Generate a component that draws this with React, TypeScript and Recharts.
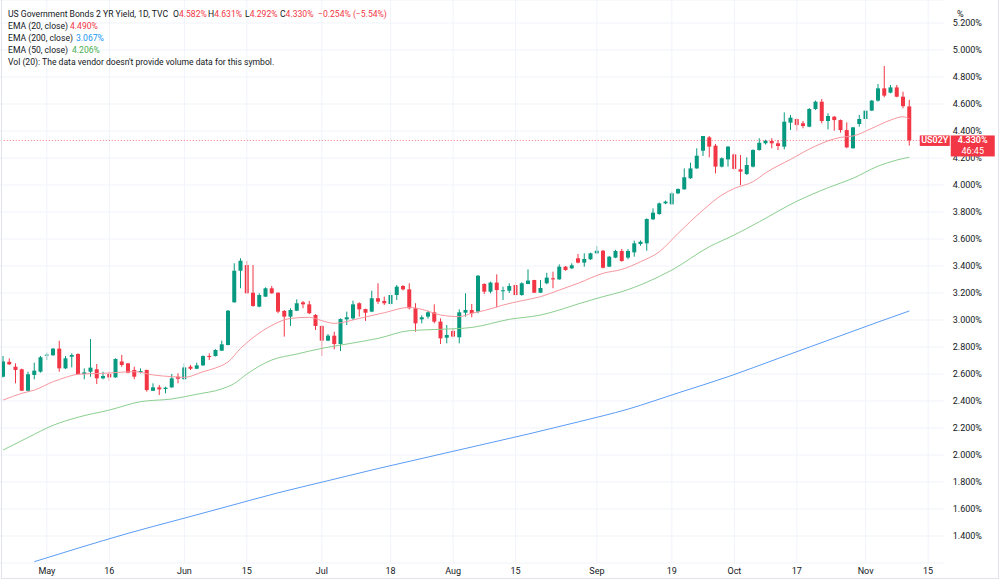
import { Bar, CartesianGrid, ComposedChart, Line, ReferenceLine, XAxis, YAxis } from "recharts";

const UP = "#089981";
const DOWN = "#F23645";
const TEXT = "#131722";
const FONT = "Roboto, 'Noto Sans', sans-serif";

// US02Y daily bars, Apr 21 2022 – Nov 10 2022
const opens = [
  2.58, 2.69, 2.654, 2.635, 2.476, 2.593, 2.617, 2.736, 2.739, 2.788,
  2.642, 2.728, 2.748, 2.6, 2.617, 2.635, 2.568, 2.6, 2.575, 2.693,
  2.679, 2.63, 2.615, 2.63, 2.476, 2.501, 2.489, 2.501, 2.58, 2.561,
  2.654, 2.639, 2.664, 2.733, 2.733, 2.773, 2.815, 3.131, 3.365, 3.407,
  3.202, 3.099, 3.173, 3.235, 3.202, 3.067, 3.025, 3.069, 3.131, 3.116,
  3.037, 2.956, 2.847, 2.884, 2.822, 3.005, 3.012, 3.124, 3.081, 3.062,
  3.161, 3.141, 3.119, 3.185, 3.252, 3.227, 3.087, 3.005, 3.025, 3.057,
  2.988, 2.869, 2.919, 2.872, 3.054, 3.074, 3.062, 3.267, 3.21, 3.277,
  3.215, 3.217, 3.259, 3.185, 3.267, 3.296, 3.202, 3.272, 3.309, 3.301,
  3.395, 3.383, 3.457, 3.425, 3.45, 3.494, 3.513, 3.395, 3.462, 3.511,
  3.462, 3.501, 3.563, 3.568, 3.746, 3.785, 3.864, 3.857, 3.938, 3.968,
  4.05, 4.123, 4.254, 4.353, 4.291, 4.136, 4.19, 4.227, 4.116, 4.081,
  4.136, 4.259, 4.309, 4.326, 4.309, 4.284, 4.462, 4.489, 4.457, 4.432,
  4.563, 4.617, 4.474, 4.506, 4.481, 4.407, 4.272, 4.452, 4.489, 4.551,
  4.625, 4.716, 4.684, 4.723, 4.654, 4.582,
];
const highs = [
  2.733, 2.716, 2.679, 2.64, 2.617, 2.684, 2.733, 2.758, 2.792, 2.847,
  2.733, 2.753, 2.753, 2.642, 2.859, 2.674, 2.617, 2.617, 2.716, 2.741,
  2.682, 2.654, 2.642, 2.632, 2.531, 2.519, 2.506, 2.6, 2.605, 2.679,
  2.667, 2.684, 2.738, 2.753, 2.783, 2.847, 3.074, 3.42, 3.457, 3.437,
  3.407, 3.198, 3.242, 3.252, 3.205, 3.074, 3.087, 3.153, 3.141, 3.141,
  3.044, 2.96, 2.896, 2.913, 3.012, 3.062, 3.143, 3.131, 3.084, 3.217,
  3.272, 3.173, 3.21, 3.259, 3.259, 3.272, 3.124, 3.035, 3.069, 3.116,
  3.012, 2.963, 2.932, 3.079, 3.198, 3.119, 3.333, 3.272, 3.284, 3.338,
  3.247, 3.272, 3.284, 3.279, 3.375, 3.298, 3.296, 3.35, 3.358, 3.412,
  3.4, 3.42, 3.489, 3.494, 3.499, 3.548, 3.519, 3.475, 3.52, 3.526,
  3.525, 3.588, 3.59, 3.753, 3.827, 3.87, 3.885, 3.951, 3.975, 4.123,
  4.165, 4.272, 4.363, 4.363, 4.304, 4.205, 4.289, 4.235, 4.222, 4.205,
  4.265, 4.346, 4.335, 4.346, 4.333, 4.538, 4.519, 4.494, 4.474, 4.57,
  4.625, 4.637, 4.531, 4.511, 4.485, 4.464, 4.43, 4.519, 4.556, 4.63,
  4.748, 4.881, 4.741, 4.741, 4.691, 4.631,
];
const lows = [
  2.575, 2.667, 2.531, 2.476, 2.47, 2.561, 2.61, 2.704, 2.735, 2.617,
  2.637, 2.649, 2.593, 2.561, 2.58, 2.526, 2.561, 2.55, 2.572, 2.654,
  2.605, 2.561, 2.605, 2.469, 2.474, 2.444, 2.457, 2.498, 2.531, 2.558,
  2.63, 2.636, 2.66, 2.704, 2.73, 2.77, 2.812, 3.128, 3.235, 3.195,
  3.099, 3.094, 3.17, 3.195, 3.05, 2.877, 2.956, 3.066, 3.087, 3.044,
  2.926, 2.733, 2.843, 2.783, 2.77, 2.963, 3.0, 3.025, 2.993, 3.058,
  3.119, 3.111, 3.112, 3.148, 3.22, 3.079, 2.913, 2.975, 3.01, 2.975,
  2.822, 2.827, 2.872, 2.827, 3.025, 3.02, 3.05, 3.193, 3.198, 3.094,
  3.148, 3.2, 3.18, 3.18, 3.265, 3.2, 3.2, 3.265, 3.235, 3.298,
  3.365, 3.378, 3.42, 3.395, 3.445, 3.49, 3.382, 3.392, 3.458, 3.432,
  3.45, 3.469, 3.55, 3.513, 3.74, 3.78, 3.858, 3.855, 3.933, 3.965,
  4.045, 4.12, 4.215, 4.205, 4.086, 4.13, 4.136, 4.111, 4.0, 4.075,
  4.13, 4.255, 4.3, 4.272, 4.259, 4.264, 4.407, 4.402, 4.42, 4.428,
  4.556, 4.457, 4.412, 4.402, 4.388, 4.272, 4.27, 4.432, 4.42, 4.548,
  4.617, 4.65, 4.679, 4.65, 4.568, 4.292,
];
const closes = [
  2.693, 2.672, 2.63, 2.476, 2.598, 2.625, 2.724, 2.744, 2.788, 2.642,
  2.716, 2.741, 2.6, 2.612, 2.647, 2.568, 2.585, 2.575, 2.711, 2.667,
  2.61, 2.58, 2.622, 2.481, 2.501, 2.486, 2.499, 2.568, 2.565, 2.649,
  2.639, 2.664, 2.733, 2.728, 2.778, 2.82, 3.069, 3.365, 3.439, 3.198,
  3.104, 3.185, 3.235, 3.198, 3.062, 3.025, 3.074, 3.124, 3.116, 3.05,
  2.956, 2.847, 2.884, 2.822, 3.007, 3.02, 3.116, 3.079, 3.054, 3.161,
  3.136, 3.124, 3.185, 3.247, 3.227, 3.087, 2.975, 3.02, 3.057, 2.988,
  2.864, 2.889, 2.877, 3.057, 3.074, 3.05, 3.328, 3.21, 3.277, 3.222,
  3.22, 3.252, 3.185, 3.272, 3.292, 3.202, 3.237, 3.314, 3.301, 3.395,
  3.37, 3.405, 3.425, 3.452, 3.494, 3.513, 3.387, 3.469, 3.511, 3.437,
  3.511, 3.568, 3.58, 3.748, 3.795, 3.864, 3.877, 3.938, 3.97, 4.057,
  4.123, 4.217, 4.363, 4.284, 4.136, 4.198, 4.284, 4.119, 4.099, 4.148,
  4.259, 4.313, 4.328, 4.309, 4.289, 4.469, 4.499, 4.444, 4.437, 4.563,
  4.617, 4.474, 4.511, 4.481, 4.407, 4.279, 4.427, 4.489, 4.551, 4.625,
  4.716, 4.662, 4.723, 4.654, 4.584, 4.33,
];

// empty slots to the right of the last bar
const FUTURE_BARS = 5;

// moving averages, [bar index, value]
const ema20: [number, number][] = [
  [0, 2.407], [3, 2.457], [5, 2.481], [8, 2.543], [10, 2.575], [12, 2.598], [16, 2.605],
  [21, 2.617], [24, 2.593], [27, 2.58], [29, 2.575], [32, 2.617], [34, 2.645], [36, 2.69],
  [38, 2.79], [40, 2.87], [43, 2.96], [46, 3.012], [49, 3.02], [51, 2.995], [53, 2.975],
  [57, 3.012], [61, 3.054], [65, 3.094], [67, 3.079], [70, 3.037], [73, 3.025], [75, 3.05],
  [77, 3.07], [80, 3.111], [83, 3.143], [86, 3.173], [89, 3.222], [92, 3.272], [96, 3.346],
  [99, 3.375], [102, 3.432], [105, 3.506], [108, 3.642], [112, 3.815], [115, 3.926],
  [117, 3.975], [120, 4.025], [122, 4.09], [126, 4.19], [130, 4.289], [134, 4.353],
  [136, 4.363], [139, 4.42], [142, 4.481], [144, 4.506], [145, 4.49],
];
const ema50: [number, number][] = [
  [0, 2.037], [4, 2.13], [8, 2.22], [12, 2.28], [17, 2.333], [22, 2.395], [27, 2.415],
  [31, 2.45], [35, 2.49], [37, 2.53], [39, 2.6], [43, 2.704], [47, 2.748], [51, 2.79],
  [55, 2.822], [60, 2.864], [65, 2.921], [70, 2.931], [75, 2.945], [81, 3.005], [86, 3.037],
  [89, 3.074], [92, 3.119], [96, 3.173], [99, 3.21], [103, 3.28], [107, 3.37], [113, 3.543],
  [117, 3.63], [121, 3.728], [127, 3.88], [132, 3.98], [136, 4.05], [140, 4.14],
  [143, 4.185], [145, 4.206],
];
const ema200: [number, number][] = [
  [5, 1.21], [12, 1.31], [20, 1.42], [28, 1.52], [36, 1.62], [44, 1.72], [52, 1.81],
  [60, 1.9], [68, 1.985], [76, 2.07], [84, 2.155], [92, 2.245], [100, 2.34], [108, 2.46],
  [116, 2.58], [124, 2.715], [132, 2.85], [140, 2.985], [145, 3.067],
];

// time scale labels by bar index (Nov 15 falls in the empty slots)
const dateTicks: [number, string][] = [
  [7, "May"], [17, "16"], [29, "Jun"], [39, "15"], [51, "Jul"], [62, "18"], [72, "Aug"],
  [82, "15"], [95, "Sep"], [107, "19"], [117, "Oct"], [127, "17"], [138, "Nov"], [148, "15"],
];

const priceTicks = [
  1.4, 1.6, 1.8, 2.0, 2.2, 2.4, 2.6, 2.8, 3.0, 3.2, 3.4, 3.6, 3.8, 4.0, 4.2, 4.4, 4.6, 4.8, 5.0, 5.2,
];

const LAST = closes[closes.length - 1];

type Row = {
  i: number;
  o?: number;
  h?: number;
  l?: number;
  c?: number;
  e20?: number;
  e50?: number;
  e200?: number;
};

const rows: Row[] = Array.from({ length: opens.length + FUTURE_BARS }, (_, i) => ({
  i,
  o: opens[i],
  h: highs[i],
  l: lows[i],
  c: closes[i],
}));
ema20.forEach(([i, v]) => (rows[i].e20 = v));
ema50.forEach(([i, v]) => (rows[i].e50 = v));
ema200.forEach(([i, v]) => (rows[i].e200 = v));

const dateLabel = new Map(dateTicks);

function Candle(props: any) {
  const { x, y, width, height, payload } = props;
  if (payload.o == null) return <g />;
  const { o, h, l, c } = payload;
  const top = Math.min(y, y + height);
  const span = Math.abs(height);
  const ppu = h > l ? span / (h - l) : 0;
  const py = (v: number) => top + (h - v) * ppu;
  const color = c >= o ? UP : DOWN;
  const cx = x + width / 2;
  const bodyTop = py(Math.max(o, c));
  const bodyH = Math.max(1, Math.abs(py(o) - py(c)));
  return (
    <g>
      <line x1={cx} x2={cx} y1={top} y2={top + span} stroke={color} strokeWidth={1} />
      <rect x={cx - 2} y={bodyTop} width={4} height={bodyH} fill={color} />
    </g>
  );
}

function PriceTick({ x, y, payload }: any) {
  return (
    <text x={x} y={y} dy={3} fontSize={9} fill={TEXT} fontFamily={FONT} textAnchor="start">
      {payload.value.toFixed(3)}%
    </text>
  );
}

function DateTick({ x, y, payload }: any) {
  const label = dateLabel.get(payload.value);
  if (!label) return <g />;
  return (
    <text x={x} y={y + 11} fontSize={9} fill={TEXT} fontFamily={FONT} textAnchor="middle">
      {label}
    </text>
  );
}

function LastPriceLabel({ viewBox }: any) {
  const y = viewBox.y;
  const right = viewBox.x + viewBox.width;
  return (
    <g fontFamily={FONT} fontSize={9}>
      <rect x={right - 24} y={y - 5} width={30} height={10.5} fill={DOWN} />
      <text x={right - 9} y={y + 3} fill="#fff" textAnchor="middle" fontWeight={600}>
        US02Y
      </text>
      <rect x={right + 7} y={y - 5} width={44} height={21} fill={DOWN} />
      <text x={right + 29} y={y + 3} fill="#fff" textAnchor="middle" fontWeight={600}>
        {LAST.toFixed(3)}%
      </text>
      <text x={right + 29} y={y + 13.5} fill="#fff" textAnchor="middle">
        46:45
      </text>
    </g>
  );
}

const row = (top: number): React.CSSProperties => ({
  position: "absolute",
  left: 8,
  top,
  height: 12,
  lineHeight: "12px",
  whiteSpace: "nowrap",
});

const at = (left: number, color = TEXT): React.CSSProperties => ({
  position: "absolute",
  left,
  top: 0,
  color,
});

export default function App() {
  return (
    <div
      style={{
        position: "relative",
        width: 1000,
        height: 584,
        background: "#fff",
        fontFamily: FONT,
        fontSize: 9,
        color: TEXT,
        overflow: "hidden",
      }}
    >
      <style>{"body{margin:0}"}</style>
      <ComposedChart width={1000} height={584} data={rows} margin={{ top: 0, right: 0, bottom: 0, left: 0 }}>
        <CartesianGrid vertical={false} stroke="#f0f3fa" />
        {dateTicks.map(([i]) => (
          <ReferenceLine key={i} x={i} stroke="#f0f3fa" />
        ))}
        <XAxis
          dataKey="i"
          type="category"
          height={21}
          interval={0}
          tick={<DateTick />}
          tickSize={0}
          tickMargin={0}
          axisLine={false}
          tickLine={false}
        />
        <YAxis
          orientation="right"
          width={56.25}
          domain={[1.2, 5.3704]}
          allowDataOverflow
          ticks={priceTicks}
          interval={0}
          tick={<PriceTick />}
          tickSize={0}
          tickMargin={9}
          axisLine={false}
          tickLine={false}
        />
        <Bar
          dataKey={(d: Row) => (d.o == null ? null : [d.l, d.h])}
          barSize={6}
          shape={<Candle />}
          isAnimationActive={false}
        />
        <Line dataKey="e200" type="monotone" stroke="#5b9cf6" strokeWidth={1} dot={false} activeDot={false} connectNulls isAnimationActive={false} />
        <Line dataKey="e50" type="monotone" stroke="#8ccf8f" strokeWidth={1} dot={false} activeDot={false} connectNulls isAnimationActive={false} />
        <Line dataKey="e20" type="monotone" stroke="#f7979f" strokeWidth={1} dot={false} activeDot={false} connectNulls isAnimationActive={false} />
        {/* last-price line with its tag, kept above the price scale */}
        <ReferenceLine
          y={LAST}
          stroke={DOWN}
          strokeOpacity={0.7}
          strokeDasharray="1 2"
          zIndex={2000}
          label={{ content: (p: any) => <LastPriceLabel viewBox={p.viewBox} />, zIndex: 2000 } as any}
        />
      </ComposedChart>

      <div style={{ fontSize: 8.6 }}>
        <div style={row(8)}>
          <span>US Government Bonds 2 YR Yield, 1D, TVC</span>
          <span style={at(165)}>O<span style={{ color: DOWN }}>4.582%</span></span>
          <span style={at(200)}>H<span style={{ color: DOWN }}>4.631%</span></span>
          <span style={at(237)}>L<span style={{ color: DOWN }}>4.292%</span></span>
          <span style={at(272)}>C<span style={{ color: DOWN }}>4.330%</span></span>
          <span style={at(310, DOWN)}>−0.254% (−5.54%)</span>
        </div>
        <div style={row(20)}>
          <span>EMA (20, close)</span>
          <span style={at(62, DOWN)}>4.490%</span>
        </div>
        <div style={row(32)}>
          <span>EMA (200, close)</span>
          <span style={at(68, "#2196F3")}>3.067%</span>
        </div>
        <div style={row(44)}>
          <span>EMA (50, close)</span>
          <span style={at(64, "#4CAF50")}>4.206%</span>
        </div>
        <div style={row(56)}>Vol (20): The data vendor doesn't provide volume data for this symbol.</div>
      </div>
      <div style={{ position: "absolute", left: 957, top: 8, lineHeight: "12px" }}>%</div>
      <div
        style={{
          position: "absolute",
          left: 1,
          top: 0,
          width: 996,
          height: 578,
          border: "1px solid #e0e3eb",
          borderTop: "none",
          pointerEvents: "none",
        }}
      />
    </div>
  );
}
